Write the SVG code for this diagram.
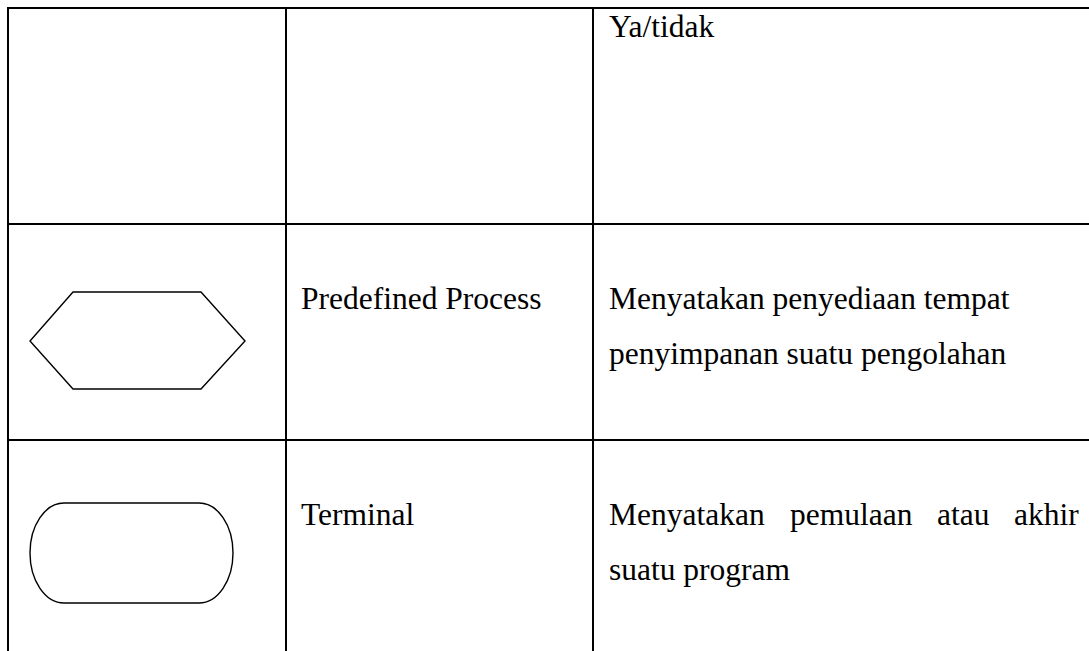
<svg xmlns="http://www.w3.org/2000/svg" width="1089" height="651" viewBox="0 0 1089 651">
<style>
.grid{stroke:#000;stroke-width:2;fill:none}
.shape{stroke:#000;stroke-width:1.4;fill:#fff}
.t{font-family:"Liberation Serif","Times New Roman",serif;font-size:31.5px;fill:#000}
</style>
<rect width="1089" height="651" fill="#fff"/>
<g id="table-grid">
<line class="grid" x1="7" y1="8" x2="1089" y2="8"/>
<line class="grid" x1="7" y1="224" x2="1089" y2="224"/>
<line class="grid" x1="7" y1="440" x2="1089" y2="440"/>
<line class="grid" x1="8" y1="7" x2="8" y2="651"/>
<line class="grid" x1="286" y1="7" x2="286" y2="651"/>
<line class="grid" x1="593" y1="7" x2="593" y2="651"/>
</g>
<g id="row-decision">
<text class="t" x="609" y="37">Ya/tidak</text>
</g>
<g id="row-predefined">
<polygon class="shape" points="73,292 201,292 245,341 201,389 73,389 30,341"/>
<text class="t" x="301" y="309">Predefined Process</text>
<text class="t" x="609" y="309">Menyatakan penyediaan tempat</text>
<text class="t" x="609" y="364">penyimpanan suatu pengolahan</text>
</g>
<g id="row-terminal">
<rect class="shape" x="30" y="503" width="203" height="100" rx="34" ry="50"/>
<text class="t" x="301" y="525">Terminal</text>
<text class="t" y="525"><tspan x="609">Menyatakan</tspan><tspan x="790">pemulaan</tspan><tspan x="937">atau</tspan><tspan x="1014">akhir</tspan></text>
<text class="t" x="609" y="580">suatu program</text>
</g>
</svg>
